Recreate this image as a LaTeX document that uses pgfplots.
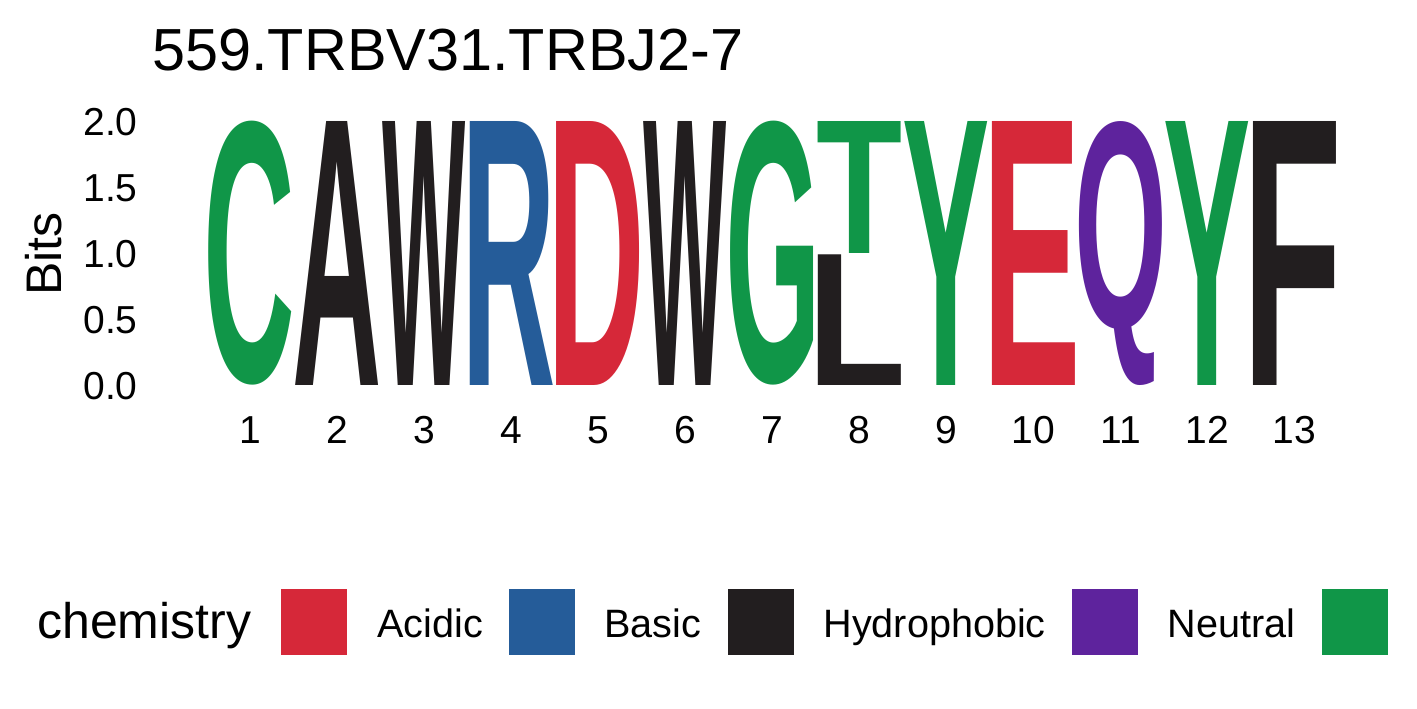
\documentclass[border=0pt]{standalone}
\usepackage{fontspec}
\usepackage{graphicx}
\usepackage{pgfplots}
\usepackage{pgfplotstable}
\pgfplotsset{compat=1.18}
\setmainfont{Liberation Sans}

\definecolor{acidic}{HTML}{D62839}
\definecolor{basic}{HTML}{255C99}
\definecolor{hydro}{HTML}{221E1F}
\definecolor{neutral}{HTML}{5E239D}
\definecolor{polar}{HTML}{109648}

% letter width and one bit, in pt
\newlength\lw \setlength\lw{41.5pt}
\newlength\yu \setlength\yu{66pt}

\newcommand\logofont{\fontsize{40pt}{40pt}\selectfont\bfseries}
% letter without its side bearings, so the ink fills the box
\newcommand\inkletter[1]{\logofont\kern-\XeTeXglyphbounds1 \XeTeXcharglyph`#1\relax #1\kern-\XeTeXglyphbounds3 \XeTeXcharglyph`#1\relax}
% meta is letter:height:colour
\def\logoglyph#1:#2:#3\relax{%
  \node[inner sep=0pt, anchor=south, text=#3]
    {\resizebox*{\lw}{#2\yu}{\hbox{\inkletter{#1}}}};}
\pgfdeclareplotmark{nothing}{}

% position, bottom (bits), letter:height:chemistry
\pgfplotstableread{
x  y0   lab
1  0    C:2.0:polar
2  0    A:2.0:hydro
3  0    W:2.0:hydro
4  0    R:2.0:basic
5  0    D:2.0:acidic
6  0    W:2.0:hydro
7  0    G:2.0:polar
8  0    L:0.99:hydro
8  1.0  T:1.0:polar
9  0    Y:2.0:polar
10 0    E:2.0:acidic
11 0    Q:2.0:neutral
12 0    Y:2.0:polar
13 0    F:2.0:hydro
}\logodata

\begin{document}
\begin{tikzpicture}
\begin{axis}[
    scale only axis,
    width=565.5pt, height=132pt,
    xmin=0.5, xmax=13.5,
    ymin=0, ymax=2,
    clip=false,
    axis line style={draw=none},
    major tick length=0pt,
    tick pos=left,
    xtick={1,2,3,4,5,6,7,8,9,10,11,12,13},
    xticklabels={1,2,3,4,5,6,7,8,9,10,11,12,13},
    ytick={0,0.5,1,1.5,2},
    yticklabels={0.0,0.5,1.0,1.5,2.0},
    tick label style={font=\fontsize{19.5pt}{24pt}\selectfont},
    xticklabel style={anchor=north, inner sep=0pt, yshift=-15pt},
    yticklabel style={anchor=east, inner sep=0pt, xshift=-34.5pt},
]
\addplot[
    scatter, only marks, mark=nothing,
    point meta=explicit symbolic,
    scatter/@pre marker code/.code={%
        \expandafter\logoglyph\pgfplotspointmeta\relax},
    scatter/@post marker code/.code={},
] table[x=x, y=y0, meta=lab] {\logodata};
\end{axis}

\pgfresetboundingbox
\path[use as bounding box] (-103.5pt,-161pt) rectangle (605pt,193pt);

\node[anchor=base west, inner sep=0pt, font=\fontsize{29.7pt}{36pt}\selectfont]
    at (-27.5pt,158pt) {559.TRBV31.TRBJ2-7};
\node[anchor=base, inner sep=0pt, rotate=90, font=\fontsize{25pt}{30pt}\selectfont]
    at (-72.5pt,66pt) {Bits};

% legend
\node[anchor=base west, inner sep=0pt, font=\fontsize{25pt}{30pt}\selectfont]
    at (-85pt,-126pt) {chemistry};
\fill[acidic]  (37pt,-134.5pt)    rectangle (70pt,-101.5pt);
\fill[basic]   (151pt,-134.5pt)   rectangle (184pt,-101.5pt);
\fill[hydro]   (260.5pt,-134.5pt) rectangle (293.5pt,-101.5pt);
\fill[neutral] (432.5pt,-134.5pt) rectangle (465.5pt,-101.5pt);
\fill[polar]   (557.5pt,-134.5pt) rectangle (590.5pt,-101.5pt);
\begin{scope}[every node/.style={anchor=base west, inner sep=0pt, font=\fontsize{19.8pt}{24pt}\selectfont}]
\node at (85pt,-125.5pt) {Acidic};
\node at (198.5pt,-125.5pt) {Basic};
\node at (308pt,-125.5pt) {Hydrophobic};
\node at (480pt,-125.5pt) {Neutral};
\end{scope}
\end{tikzpicture}
\end{document}
